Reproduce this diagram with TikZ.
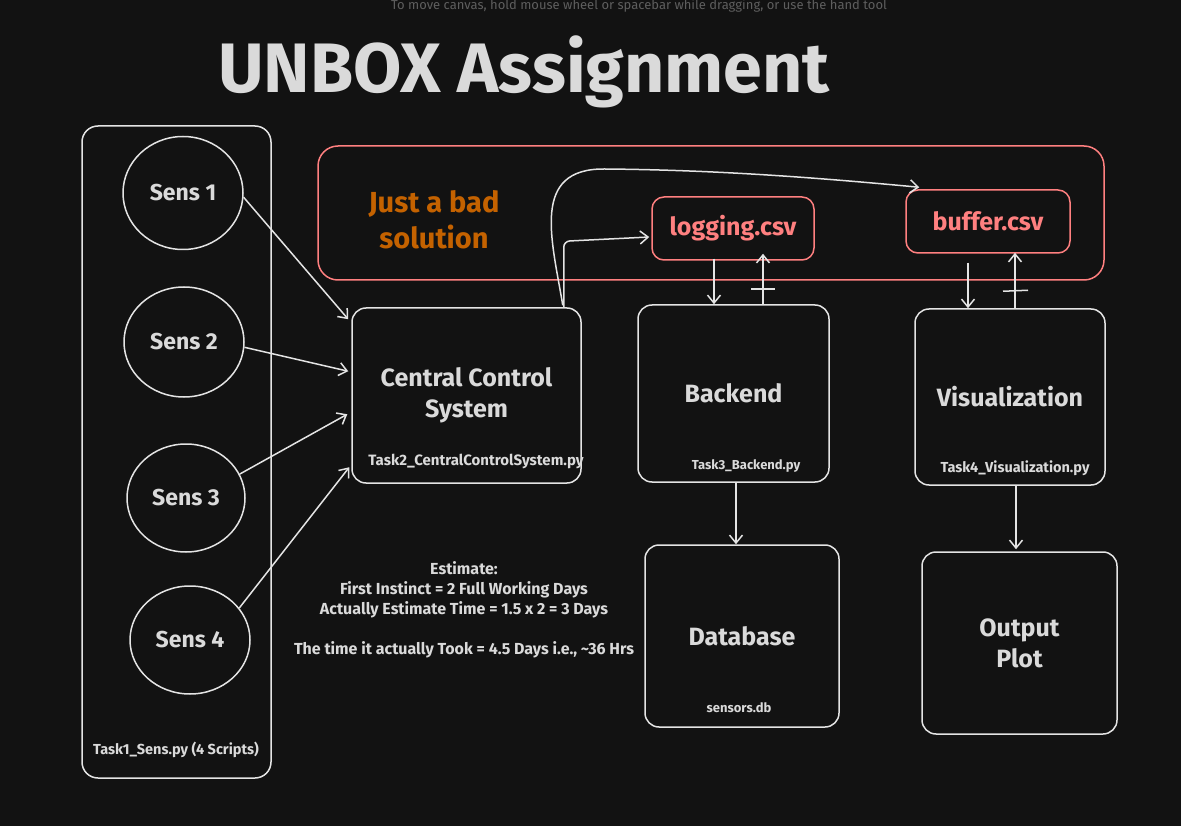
\documentclass[tikz,border=0pt]{standalone}
\usepackage{fontspec}
\setmainfont{Fira Sans}
\usetikzlibrary{arrows.meta,shapes.geometric,calc}
\definecolor{bg}{HTML}{121212}
\definecolor{ln}{HTML}{E4E4E4}
\definecolor{txt}{HTML}{DADADA}
\definecolor{redc}{HTML}{FF8080}
\definecolor{orng}{HTML}{C46200}
\definecolor{hint}{HTML}{5E5E5E}
\begin{document}
\begin{tikzpicture}[x=1pt,y=-1pt,
  box/.style={draw=ln, line width=1.5pt, rounded corners=14pt, text=txt, font=\bfseries\fontsize{25}{31}\selectfont, align=center, inner sep=0pt},
  redbox/.style={draw=redc, line width=1.5pt, rounded corners=12pt, text=redc, font=\bfseries\fontsize{25}{28}\selectfont, inner sep=0pt},
  sens/.style={draw=ln, line width=1.5pt, ellipse, inner sep=0pt, text=txt, font=\bfseries\fontsize{23}{28}\selectfont},
  small/.style={text=txt, font=\bfseries\fontsize{13}{16}\selectfont, inner sep=0pt},
  arr/.style={draw=ln, line width=1.5pt, -{Straight Barb[length=8pt,width=13pt,line width=1.5pt]}},
  conn/.style={draw=ln, line width=1.5pt}]
\fill[bg] (0,0) rectangle (1181,826);
\useasboundingbox (0,0) rectangle (1181,826);

% hint text (at the top edge)
\node[text=hint, font=\fontsize{13}{16}\selectfont, anchor=base, inner sep=0pt] (hint) at (639,10) {To move canvas, hold mouse wheel or spacebar while dragging, or use the hand tool};

% title
\node[text=txt, font=\bfseries\fontsize{70}{80}\selectfont, inner sep=0pt] (title) at (524,72) {UNBOX Assignment};

% left container
\node[box, minimum width=189, minimum height=652, rounded corners=16pt] (sensbox) at (176.5,452) {};
\node[small, font=\bfseries\fontsize{14.5}{16}\selectfont] (t1) at (176,750) {Task1\_Sens.py (4 Scripts)};

% sensors
\node[sens, minimum width=120, minimum height=113] (s1) at (183,193) {Sens 1};
\node[sens, minimum width=120, minimum height=110] (s2) at (184,342) {Sens 2};
\node[sens, minimum width=118, minimum height=108] (s3) at (186,498) {Sens 3};
\node[sens, minimum width=120, minimum height=108] (s4) at (190,640) {Sens 4};

% big red region
\node[draw=redc, line width=1.5pt, rounded corners=20pt, minimum width=786, minimum height=134, inner sep=0pt] (region) at (711,213) {};
\node[text=orng, font=\bfseries\fontsize{29}{36}\selectfont, align=center, inner sep=0pt] (bad) at (434,220) {Just a bad\\solution};

% csv boxes
\node[redbox, minimum width=162, minimum height=63] (log) at (733,228.5) {logging.csv};
\node[redbox, minimum width=164, minimum height=63] (buf) at (988,221.5) {buffer.csv};

% main boxes
\node[box, minimum width=229, minimum height=175] (ccs) at (466.5,395.5) {Central Control\\System};
\node[small, font=\bfseries\fontsize{15}{16}\selectfont] (t2) at (476,461) {Task2\_CentralControlSystem.py};

\node[box, minimum width=191, minimum height=177] (back) at (733.5,393.5) {Backend};
\node[small] (t3) at (746,466) {Task3\_Backend.py};

\node[box, minimum width=190, minimum height=176] (vis) at (1010,397) {Visualization};
\node[small, font=\bfseries\fontsize{14.5}{16}\selectfont] (t4) at (1015,468) {Task4\_Visualization.py};

\node[box, minimum width=194, minimum height=182] (db) at (742,636) {Database};
\node[small] (t5) at (739,708) {sensors.db};

\node[box, minimum width=195, minimum height=182] (out) at (1019.5,643) {Output\\Plot};

% estimate text
\node[text=txt, font=\bfseries\fontsize{16}{20}\selectfont, align=center, inner sep=0pt] (est) at (464,610) {Estimate:\\First Instinct = 2 Full Working Days\\Actually Estimate Time = 1.5 x 2 = 3 Days\\[20pt]The time it actually Took = 4.5 Days i.e., \textasciitilde36 Hrs};

% sensor connectors
\draw[arr] (s1.-4) -- ($(ccs.north west)+(-3,12)$);
\draw[arr] (s2.-5) -- ($(ccs.north west)+(-3,64)$);
\draw[arr] (s3.24) -- ($(ccs.north west)+(-4,107)$);
\draw[arr] (s4.33) -- ($(ccs.north west)+(-2,160)$);

% ccs to csv
\draw[arr, rounded corners=6pt] ($(ccs.north east)+(-18,0)$) -- ($(ccs.north east)+(-18,-66)$) -- ($(log.west)+(-2,8.5)$);
\draw[arr] ($(ccs.north east)+(-19,-2)$) .. controls (552,240) and (530,168) .. (605,169) .. controls (720,170) and (820,178) .. ($(buf.north west)+(14,-2)$);

% logging <-> backend
\draw[arr] ($(log.south)+(-19,-2)$) -- ($(back.north)+(-19.5,0)$);
\draw[arr] ($(back.north)+(29.5,0)$) -- ($(log.south)+(30,-7)$);
\draw[conn] ($(back.north)+(17.5,-15)$) -- ++(24,0);

% buffer <-> visualization
\draw[arr] ($(buf.south)+(-20,9)$) -- ($(vis.north)+(-42,0)$);
\draw[arr] ($(vis.north)+(5,0)$) -- ($(buf.south)+(27,-1)$);
\draw[conn] ($(vis.north)+(-7,-17)$) -- ++(25,-1);

% down to db / output
\draw[arr] ($(back.south)+(2.5,0)$) -- ($(db.north)+(-6,0)$);
\draw[arr] ($(vis.south)+(6,0)$) -- ($(out.north)+(-3.5,-2)$);
\end{tikzpicture}
\end{document}
